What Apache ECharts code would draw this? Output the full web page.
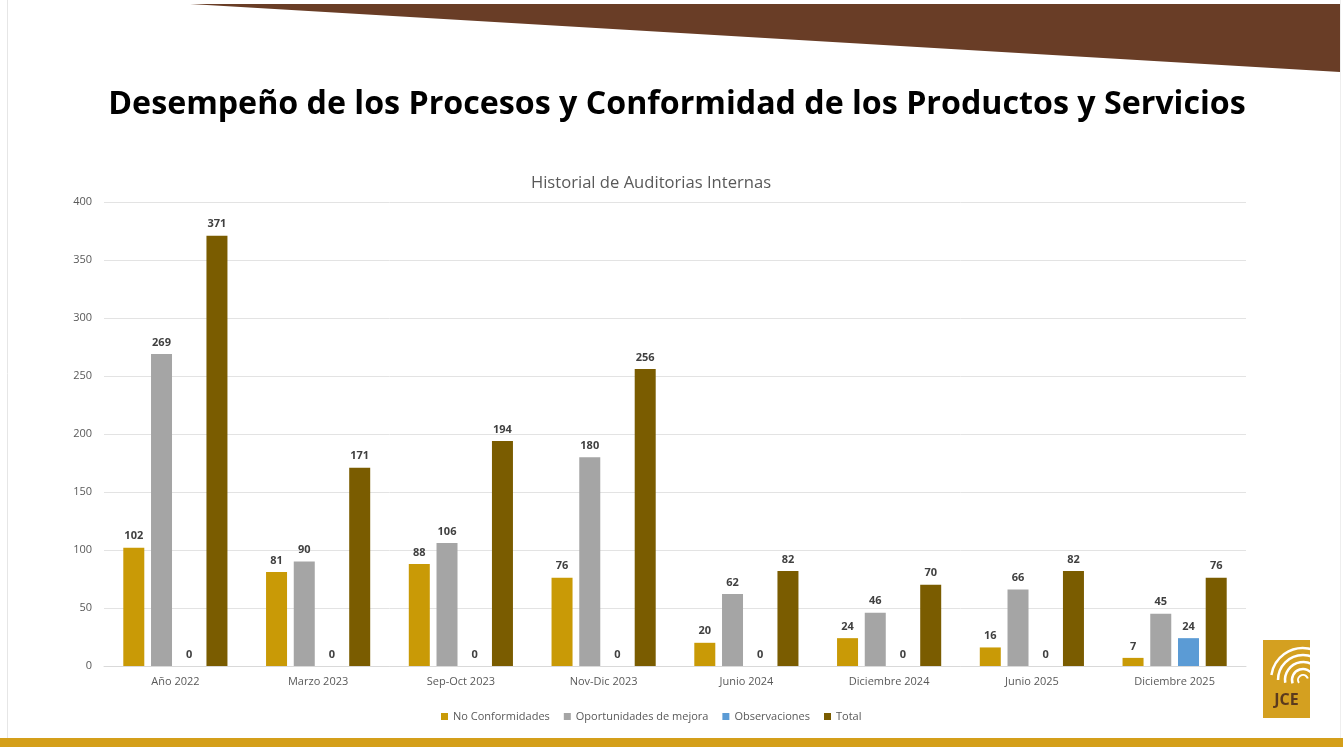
<!DOCTYPE html>
<html>
<head>
<meta charset="utf-8">
<script src="https://cdn.jsdelivr.net/npm/echarts@6/dist/echarts.min.js"></script>
<style>
  html, body { margin: 0; padding: 0; background: #fff; }
  #chart { width: 1343px; height: 747px; }
</style>
</head>
<body>
<div id="chart"></div>
<script>
// periodos de auditoria
var categorias = ['Año 2022', 'Marzo 2023', 'Sep-Oct 2023', 'Nov-Dic 2023', 'Junio 2024', 'Diciembre 2024', 'Junio 2025', 'Diciembre 2025']
var noConformidades = [102, 81, 88, 76, 20, 24, 16, 7]
var oportunidades = [269, 90, 106, 180, 62, 46, 66, 45]
var observaciones = [0, 0, 0, 0, 0, 0, 0, 24]
var totales = [371, 171, 194, 256, 82, 70, 82, 76]

var myChart = echarts.init(document.getElementById('chart'))

function serie (name, data, color) {
  return {
    name: name,
    type: 'bar',
    data: data,
    barWidth: 21,
    barGap: '32%',
    itemStyle: { color: color },
    label: {
      show: true,
      position: 'top',
      distance: 6,
      color: '#404040',
      fontSize: 11,
      fontWeight: 'bold',
      fontFamily: 'Open Sans'
    }
  }
}

var option = {
  backgroundColor: '#fff',
  animation: false,
  title: [{
    text: 'Desempeño de los Procesos y Conformidad de los Productos y Servicios',
    left: 672,
    textAlign: 'center',
    top: 84,
    textStyle: { fontSize: 32.2, fontWeight: 'bold', color: '#000', fontFamily: 'Open Sans' }
  }, {
    text: 'Historial de Auditorias Internas',
    left: 646,
    textAlign: 'center',
    top: 170,
    textStyle: { fontSize: 16.6, fontWeight: 'normal', color: '#595959', fontFamily: 'Open Sans' }
  }],
  legend: {
    bottom: 20,
    left: 436,
    itemWidth: 7,
    itemHeight: 7,
    itemGap: 14,
    icon: 'rect',
    textStyle: { color: '#595959', fontSize: 11, fontFamily: 'Open Sans' },
    data: ['No Conformidades', 'Oportunidades de mejora', 'Observaciones', 'Total']
  },
  grid: { left: 104, right: 97, top: 202, bottom: 81 },
  xAxis: {
    type: 'category',
    data: categorias,
    axisLine: { lineStyle: { color: '#d9d9d9' } },
    axisTick: { show: false },
    axisLabel: { color: '#595959', fontSize: 11, margin: 10, fontFamily: 'Open Sans' }
  },
  yAxis: {
    type: 'value',
    min: 0,
    max: 400,
    interval: 50,
    axisLine: { show: false },
    axisTick: { show: false },
    splitLine: { lineStyle: { color: '#e3e3e3' } },
    axisLabel: { color: '#595959', fontSize: 11, margin: 12, fontFamily: 'Open Sans' }
  },
  series: [
    serie('No Conformidades', noConformidades, '#c99a06'),
    serie('Oportunidades de mejora', oportunidades, '#a5a5a5'),
    serie('Observaciones', observaciones, '#5b9bd5'),
    serie('Total', totales, '#7a5c00')
  ],
  graphic: [
    // franja cafe superior
    { type: 'polygon', shape: { points: [[190, 4], [1340, 4], [1340, 72]] }, style: { fill: '#693d26' } },
    // bordes de la diapositiva
    { type: 'line', shape: { x1: 7.5, y1: 0, x2: 7.5, y2: 747 }, style: { stroke: '#e6e6e6', lineWidth: 1 } },
    { type: 'line', shape: { x1: 1340.5, y1: 0, x2: 1340.5, y2: 747 }, style: { stroke: '#eeeeee', lineWidth: 1 } },
    // barra dorada inferior
    { type: 'rect', shape: { x: 0, y: 738, width: 1343, height: 9 }, style: { fill: '#d49f1a' } },
    // logo JCE
    {
      type: 'group',
      left: 1263,
      top: 640,
      children: [
        { type: 'rect', shape: { x: 0, y: 0, width: 47, height: 78 }, style: { fill: '#d4a020' } },
        { type: 'arc', shape: { cx: 40, cy: 40, r: 32, startAngle: Math.PI * 1.05, endAngle: Math.PI * 1.7 }, style: { stroke: '#fff', lineWidth: 2.5, fill: null } },
        { type: 'arc', shape: { cx: 40, cy: 40, r: 25, startAngle: Math.PI * 1.0, endAngle: Math.PI * 1.75 }, style: { stroke: '#fff', lineWidth: 2.5, fill: null } },
        { type: 'arc', shape: { cx: 40, cy: 40, r: 18, startAngle: Math.PI * 0.95, endAngle: Math.PI * 1.8 }, style: { stroke: '#fff', lineWidth: 2.5, fill: null } },
        { type: 'arc', shape: { cx: 40, cy: 40, r: 11, startAngle: Math.PI * 0.9, endAngle: Math.PI * 1.85 }, style: { stroke: '#fff', lineWidth: 2.5, fill: null } },
        { type: 'arc', shape: { cx: 40, cy: 40, r: 5, startAngle: Math.PI * 0.8, endAngle: Math.PI * 1.9 }, style: { stroke: '#fff', lineWidth: 2, fill: null } },
        { type: 'text', x: 23.5, y: 60, style: { text: 'JCE', fill: '#5a3a1e', font: 'bold 16px "Open Sans"', textAlign: 'center', textVerticalAlign: 'middle' } }
      ]
    }
  ]
}

myChart.setOption(option)
</script>
</body>
</html>
